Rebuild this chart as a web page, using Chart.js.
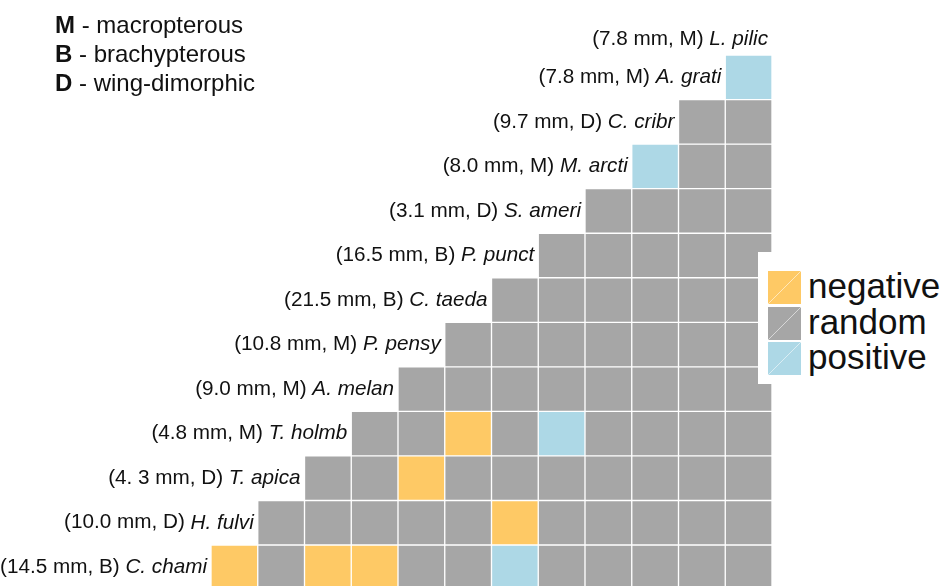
<!DOCTYPE html>
<html>
<head>
<meta charset="utf-8">
<script src="https://cdn.jsdelivr.net/npm/chart.js@4/dist/chart.umd.min.js"></script>
<style>
  html, body { margin: 0; padding: 0; background: #fff; }
  #wrap { position: relative; width: 946px; height: 586px; overflow: hidden; font-family: "Liberation Sans", Arial, sans-serif; }
  canvas { position: absolute; left: 0; top: 0; }
  #notes { position: absolute; left: 55px; top: 10px; font-size: 24px; line-height: 29px; color: #111; }
  #notes b { font-weight: bold; }
  #legend { position: absolute; left: 758px; top: 252px; width: 188px; height: 132px; background: #fff; }
  .item { position: absolute; left: 10px; height: 33px; }
  .key { position: absolute; left: 0; top: 0; width: 33px; height: 33px; }
  .key::after { content: ""; position: absolute; inset: 0;
    background: linear-gradient(to bottom right, transparent 48.5%, rgba(255,255,255,0.55) 50%, transparent 51.5%); }
  .lab { position: absolute; left: 40px; top: -5px; font-size: 35px; line-height: 40px; color: #111; white-space: nowrap; }
</style>
</head>
<body>
<div id="wrap">
  <canvas id="c" width="946" height="586"></canvas>
  <div id="notes">
    <div><b>M</b> - macropterous</div>
    <div><b>B</b> - brachypterous</div>
    <div><b>D</b> - wing-dimorphic</div>
  </div>
  <div id="legend"></div>
</div>
<script>
// ---- data ----
const species = ["L. pilic", "A. grati", "C. cribr", "M. arcti", "S. ameri", "P. punct",
                 "C. taeda", "P. pensy", "A. melan", "T. holmb", "T. apica", "H. fulvi", "C. chami"];
const bodySize = ["7.8", "7.8", "9.7", "8.0", "3.1", "16.5", "21.5", "10.8", "9.0", "4.8", "4. 3", "10.0", "14.5"];
const wingType = ["M", "M", "D", "M", "D", "B", "B", "M", "M", "M", "D", "D", "B"];
// association of each species (row) with earlier species; -1 negative, 0 random, 1 positive
// listed from the leftmost cell of the row to the rightmost column
const assoc = [
  [],
  [1],
  [0, 0],
  [1, 0, 0],
  [0, 0, 0, 0],
  [0, 0, 0, 0, 0],
  [0, 0, 0, 0, 0, 0],
  [0, 0, 0, 0, 0, 0, 0],
  [0, 0, 0, 0, 0, 0, 0, 0],
  [0, 0, -1, 0, 1, 0, 0, 0, 0],
  [0, 0, -1, 0, 0, 0, 0, 0, 0, 0],
  [0, 0, 0, 0, 0, -1, 0, 0, 0, 0, 0],
  [-1, 0, -1, -1, 0, 0, 1, 0, 0, 0, 0, 0]
];
const legendNames = ["negative", "random", "positive"];
const legendCodes = [-1, 0, 1];
const colorOf = { "-1": "#fec965", "0": "#a6a6a6", "1": "#add8e6" };

// ---- build ----
const nCols = species.length - 1;
const colLabels = [];
for (let c = 0; c < nCols; c++) colLabels.push(species[nCols - 1 - c]);

const datasets = [];
for (let r = 1; r < species.length; r++) {
  const row = assoc[r];
  const first = nCols - row.length;
  const data = [], colors = [];
  for (let c = 0; c < nCols; c++) {
    if (c >= first) {
      data.push([r - 0.5, r + 0.5]);
      colors.push(colorOf[row[c - first]]);
    } else {
      data.push(null);
      colors.push("rgba(0,0,0,0)");
    }
  }
  datasets.push({
    label: species[r], data, backgroundColor: colors,
    borderColor: "rgba(255,255,255,0.38)", borderWidth: 1, borderSkipped: false,
    barPercentage: 1, categoryPercentage: 1
  });
}

const FONT = '"Liberation Sans", Arial, sans-serif';
const LSIZE = 20.7;
const rowLabels = {
  id: "rowLabels",
  afterDatasetsDraw(chart) {
    const ctx = chart.ctx, xs = chart.scales.x, ys = chart.scales.y;
    ctx.save();
    ctx.fillStyle = "#111";
    ctx.textBaseline = "middle";
    ctx.textAlign = "left";
    for (let r = 0; r < species.length; r++) {
      const col = nCols - r;
      const right = xs.getPixelForValue(col - 0.5) - 4;
      // top label sits a little lower, just above its column
      const y = ys.getPixelForValue(r === 0 ? 0.15 : r);
      const plain = "(" + bodySize[r] + " mm, " + wingType[r] + ") ";
      ctx.font = "italic " + LSIZE + "px " + FONT;
      const wi = ctx.measureText(species[r]).width;
      ctx.font = LSIZE + "px " + FONT;
      const wp = ctx.measureText(plain).width;
      ctx.fillText(plain, right - wi - wp, y);
      ctx.font = "italic " + LSIZE + "px " + FONT;
      ctx.fillText(species[r], right - wi, y);
    }
    ctx.restore();
  }
};

new Chart(document.getElementById("c"), {
  type: "bar",
  data: { labels: colLabels, datasets },
  options: {
    responsive: false, animation: false, devicePixelRatio: 1,
    layout: { padding: { left: 211, right: 174, top: 10.5, bottom: 0 } },
    scales: {
      x: { type: "category", offset: true, stacked: true, display: false, grid: { display: false } },
      y: { type: "linear", min: -0.5, max: 12.42, reverse: true, stacked: false, display: false, grid: { display: false } }
    },
    plugins: { legend: { display: false }, tooltip: { enabled: false } }
  },
  plugins: [rowLabels]
});

// ---- legend ----
const lg = document.getElementById("legend");
legendNames.forEach((name, i) => {
  const it = document.createElement("div");
  it.className = "item";
  it.style.top = (19 + i * 35.5) + "px";
  const k = document.createElement("div");
  k.className = "key";
  k.style.background = colorOf[legendCodes[i]];
  const t = document.createElement("div");
  t.className = "lab";
  t.textContent = name;
  it.appendChild(k); it.appendChild(t);
  lg.appendChild(it);
});
</script>
</body>
</html>
